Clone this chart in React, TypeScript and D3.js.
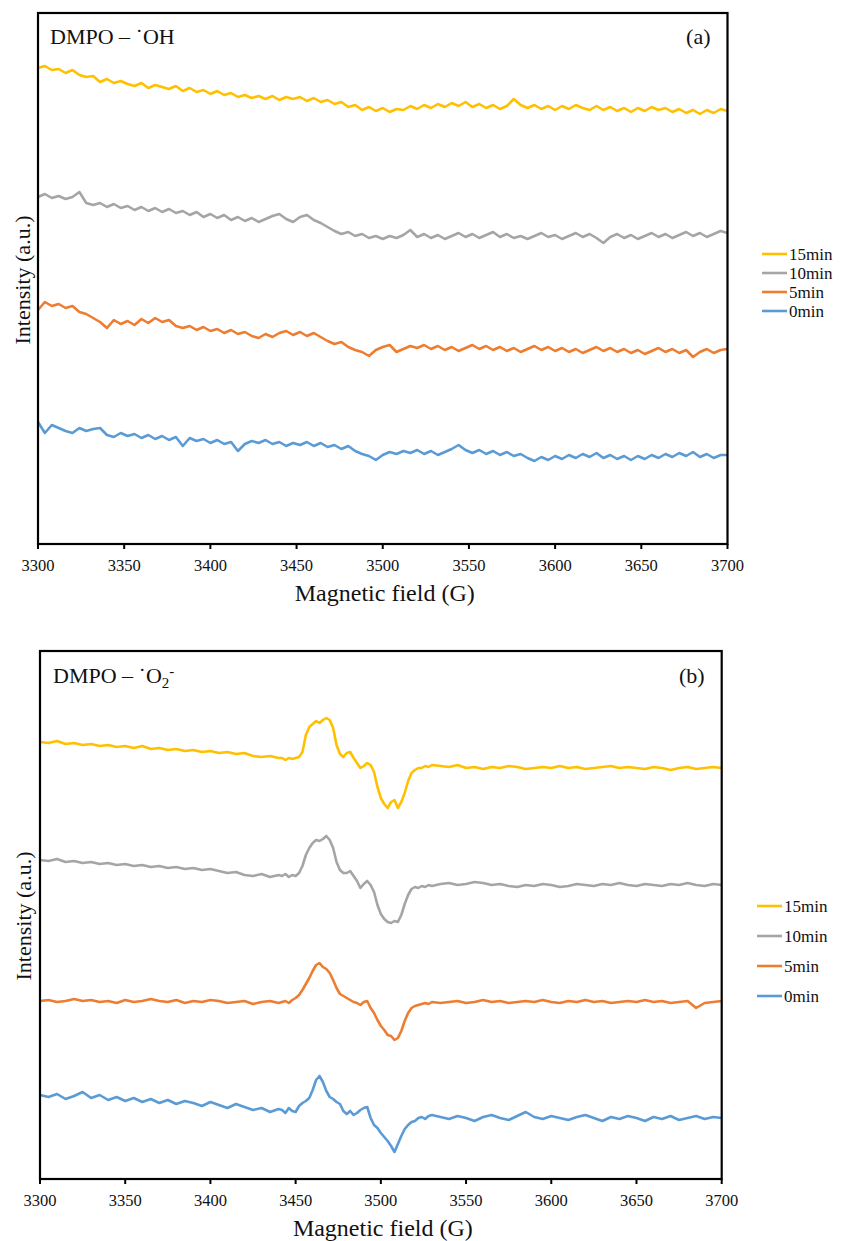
import React from "react";
import * as d3 from "d3";

// ---------- shared categories ----------
const fieldDomain = [3300, 3700];
const fieldTicks = [3300, 3350, 3400, 3450, 3500, 3550, 3600, 3650, 3700];
const seriesNames = ["15min", "10min", "5min", "0min"];
const seriesColors = ["#FFC000", "#A5A5A5", "#ED7D31", "#5B9BD5"];

// ---------- panel (a): DMPO - OH, sampled every 4 G from 3300 G ----------
const ohYellow15 = [476,478,474,475,471,474,469,467,468,462,465,461,463,460,458,461,456,459,457,455,458,453,456,452,454,450,453,449,451,447,449,446,448,445,448,444,447,445,447,443,446,442,444,440,442,437,439,434,437,433,436,432,435,434,438,435,439,436,440,437,441,438,442,437,440,436,439,435,438,445,439,436,439,435,438,434,438,435,439,436,434,438,434,437,433,436,432,436,433,437,434,436,432,435,431,434,430,434,431,435,433];
const ohGray10 = [347,350,346,348,345,347,352,341,339,341,337,340,336,338,334,337,333,336,332,335,331,333,329,332,327,330,326,329,324,327,323,326,322,325,328,330,325,322,327,329,324,321,317,313,310,312,308,310,306,308,305,308,306,309,314,307,310,306,309,305,308,311,307,310,306,309,312,307,310,306,308,305,308,311,307,309,305,308,311,307,310,306,301,307,310,306,309,305,308,311,307,310,306,309,312,308,311,307,310,313,311];
const ohOrange5 = [234,242,238,240,236,238,232,230,226,222,216,224,220,223,219,225,221,226,222,224,218,216,218,214,217,213,215,211,214,210,212,208,206,210,207,211,213,209,212,208,211,207,203,200,202,197,194,192,188,194,197,199,192,195,198,196,199,195,198,194,197,193,196,199,195,198,194,197,193,196,192,195,198,194,197,193,196,192,195,191,194,197,193,196,192,195,191,194,190,193,196,192,195,191,194,187,192,195,191,194,195];
const ohBlue0 = [122,111,119,116,113,111,116,113,115,116,109,107,111,108,110,106,109,105,108,104,107,98,106,103,105,101,104,100,102,93,100,103,101,104,100,102,98,101,99,102,98,101,97,99,95,98,93,90,88,84,89,92,90,93,91,94,90,93,89,92,95,99,94,91,94,90,93,89,92,88,90,86,83,87,84,88,85,89,86,90,87,91,86,89,85,88,84,88,85,89,86,90,87,91,88,92,87,90,86,89,89];

// ---------- panel (b): DMPO - O2-, field grid denser across the signal ----------
const fieldB = [
  ...d3.range(3300, 3441, 5),
  ...d3.range(3442, 3531, 2),
  ...d3.range(3535, 3701, 5),
];
const o2Yellow15 = [
  437,436,438,435,436,434,435,433,434,432,433,431,433,430,431,429,430,428,429,427,428,426,427,425,426,423,422,423,421,
  421,419,421,420,421,422,427,444,452,455,458,456,459,461,459,451,434,425,422,426,427,421,416,411,413,416,414,407,392,381,375,371,377,379,371,377,386,398,406,409,411,411,413,412,414,
  413,412,414,411,412,410,412,411,413,412,410,411,412,411,413,411,412,410,411,412,413,411,412,411,410,412,411,409,411,412,410,411,412,411,
];
const o2Gray10 = [
  319,318,320,317,318,316,317,315,316,314,315,313,314,312,313,311,312,310,311,309,310,308,306,307,304,303,305,302,304,
  303,305,302,304,303,306,313,324,331,336,339,338,340,343,339,331,317,309,306,306,308,303,298,291,295,298,294,287,274,265,260,257,256,258,257,264,275,284,290,292,291,293,292,294,293,
  295,296,294,295,297,296,294,295,293,292,294,293,295,294,292,293,295,294,293,295,294,296,294,293,295,294,293,295,294,296,294,293,295,294,
];
const o2Orange5 = [
  178,179,177,178,180,178,179,177,178,176,179,177,178,180,178,177,179,176,178,177,179,178,176,177,178,175,177,178,176,
  177,178,176,179,181,184,189,195,201,208,214,216,212,210,206,199,191,185,183,181,179,177,176,174,177,178,171,166,159,153,149,144,143,139,141,148,158,166,171,173,174,175,176,175,177,
  176,177,178,176,177,179,177,178,176,177,178,177,179,177,176,178,177,179,177,178,176,177,178,177,179,177,178,176,177,178,171,176,177,178,
];
const o2Blue0 = [
  84,82,85,80,83,87,81,84,79,82,78,81,77,80,76,79,75,78,76,73,77,74,71,75,72,69,71,67,70,
  69,66,71,68,67,73,76,78,81,89,99,103,97,88,82,80,77,75,68,65,68,64,66,69,71,72,61,54,51,46,42,38,33,27,35,43,50,54,57,58,61,62,60,63,64,
  62,60,63,61,58,62,64,61,59,63,67,62,60,63,61,59,62,64,61,58,62,60,63,61,58,62,60,63,59,61,63,60,62,61,
];

const ohSeries = [ohYellow15, ohGray10, ohOrange5, ohBlue0];
const o2Series = [o2Yellow15, o2Gray10, o2Orange5, o2Blue0];

const FONT = "'Liberation Serif', 'Times New Roman', serif";

type PanelProps = {
  left: number;
  right: number;
  top: number;
  bottom: number;
  series: number[][];
  fields: (s: number[]) => number[];
  title: React.ReactNode;
  tag: string;
  tagY: number;
  titleX: number;
  titleY: number;
  legendX: number;
  legendY: number;
  legendGap: number;
  yLabelX: number;
  yLabelY: number;
  tickLabelY: number;
  xLabelY: number;
};

function Panel(p: PanelProps) {
  const x = d3.scaleLinear().domain(fieldDomain).range([p.left, p.right]);
  const y = d3.scaleLinear().domain([0, p.bottom - p.top]).range([p.bottom, p.top]);
  return (
    <g>
      {p.series.map((vals, si) => {
        const f = p.fields(vals);
        const pts: [number, number][] = vals.map((v, i) => [f[i], v]);
        const line = d3
          .line<[number, number]>()
          .x((d) => x(d[0]))
          .y((d) => y(d[1]));
        return (
          <path
            key={si}
            d={line(pts) || ""}
            fill="none"
            stroke={seriesColors[si]}
            strokeWidth={2.6}
            strokeLinejoin="round"
          />
        );
      })}
      <rect
        x={p.left}
        y={p.top}
        width={p.right - p.left}
        height={p.bottom - p.top}
        fill="none"
        stroke="#000"
        strokeWidth={2.2}
      />
      {fieldTicks.map((t) => (
        <g key={t}>
          <line x1={x(t)} x2={x(t)} y1={p.bottom} y2={p.bottom + 5} stroke="#000" strokeWidth={2} />
          <text x={x(t)} y={p.tickLabelY} textAnchor="middle" fontFamily={FONT} fontSize={16.5} fill="#111">
            {t}
          </text>
        </g>
      ))}
      <text x={(p.left + p.right) / 2 + 2} y={p.xLabelY} textAnchor="middle" fontFamily={FONT} fontSize={24} fill="#111">
        Magnetic field (G)
      </text>
      <text
        transform={`translate(${p.yLabelX},${p.yLabelY}) rotate(-90)`}
        textAnchor="middle"
        fontFamily={FONT}
        fontSize={22}
        fill="#111"
      >
        Intensity (a.u.)
      </text>
      <text x={p.titleX} y={p.titleY} fontFamily={FONT} fontSize={22} fill="#111">
        {p.title}
      </text>
      <text x={p.right - 17} y={p.tagY} textAnchor="end" fontFamily={FONT} fontSize={22} fill="#111">
        {p.tag}
      </text>
      {seriesNames.map((n, i) => {
        const ly = p.legendY + i * p.legendGap;
        return (
          <g key={n}>
            <line x1={p.legendX} x2={p.legendX + 25} y1={ly} y2={ly} stroke={seriesColors[i]} strokeWidth={2.6} />
            <text x={p.legendX + 27} y={ly + 6} fontFamily={FONT} fontSize={17} fill="#111">
              {n}
            </text>
          </g>
        );
      })}
    </g>
  );
}

export default function App() {
  const uniformFields = (s: number[]) =>
    s.map((_, i) => fieldDomain[0] + (i * (fieldDomain[1] - fieldDomain[0])) / (s.length - 1));
  const fieldsB = () => fieldB;
  return (
    <svg
      width={841}
      height={1241}
      style={{ position: "absolute", left: 0, top: 0, background: "#fff" }}
    >
      <rect width={841} height={1241} fill="#fff" />
      <Panel
        left={38}
        right={727.5}
        top={13}
        bottom={544}
        series={ohSeries}
        fields={uniformFields}
        title={<tspan>DMPO – ˙OH</tspan>}
        tag="(a)"
        tagY={44}
        titleX={50}
        titleY={44}
        legendX={762}
        legendY={254}
        legendGap={19}
        yLabelX={30}
        yLabelY={280}
        tickLabelY={571}
        xLabelY={601}
      />
      <Panel
        left={40}
        right={721.7}
        top={651}
        bottom={1179}
        series={o2Series}
        fields={fieldsB}
        title={
          <>
            <tspan>DMPO – ˙O</tspan>
            <tspan fontSize={15} dy={5}>2</tspan>
            <tspan fontSize={15} dy={-12}>-</tspan>
          </>
        }
        tag="(b)"
        tagY={683}
        titleX={53}
        titleY={683}
        legendX={757}
        legendY={906}
        legendGap={30}
        yLabelX={31}
        yLabelY={916}
        tickLabelY={1206}
        xLabelY={1236}
      />
    </svg>
  );
}
